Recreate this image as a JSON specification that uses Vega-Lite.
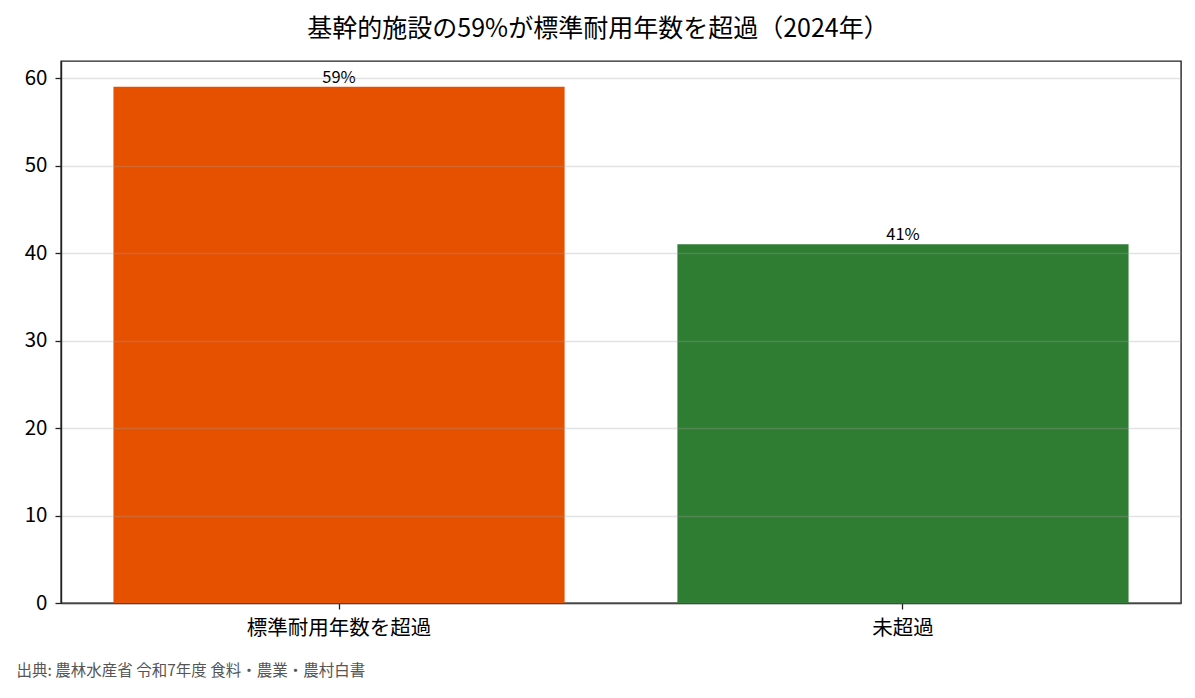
{
  "$schema": "https://vega.github.io/schema/vega-lite/v6.json",
  "width": 1120,
  "height": 542,
  "autosize": {"type": "none"},
  "padding": {"left": 61, "top": 61, "right": 14, "bottom": 95},
  "background": "white",
  "title": {
    "text": "基幹的施設の59%が標準耐用年数を超過（2024年）",
    "font": "Noto Sans CJK JP",
    "fontSize": 25,
    "fontWeight": "normal",
    "color": "#000000",
    "anchor": "middle",
    "dx": -23,
    "offset": 19
  },
  "config": {
    "font": "Noto Sans CJK JP",
    "view": {"stroke": "#222222", "strokeWidth": 1.4}
  },
  "data": {
    "values": [
      {"category": "標準耐用年数を超過", "value": 59, "label": "59%"},
      {"category": "未超過", "value": 41, "label": "41%"}
    ]
  },
  "encoding": {
    "x": {
      "field": "category",
      "type": "nominal",
      "sort": null,
      "scale": {"paddingInner": 0.2, "paddingOuter": 0.093},
      "axis": {
        "title": "出典: 農林水産省 令和7年度 食料・農業・農村白書",
        "titleFont": "Noto Sans CJK JP",
        "titleFontSize": 15.5,
        "titleFontWeight": "normal",
        "titleColor": "#555555",
        "titleAnchor": "start",
        "titleAlign": "left",
        "titleX": -45,
        "titleY": 60,
        "labelAngle": 0,
        "labelFontSize": 20.5,
        "labelLimit": 0,
        "labelColor": "#000000",
        "labelPadding": 9,
        "tickColor": "#222222",
        "tickSize": 6,
        "tickWidth": 1.3,
        "domainColor": "#222222",
        "domainWidth": 1.4,
        "grid": false
      }
    },
    "y": {
      "field": "value",
      "type": "quantitative",
      "scale": {"domain": [0, 61.95], "nice": false},
      "axis": {
        "title": null,
        "values": [0, 10, 20, 30, 40, 50, 60],
        "labelFontSize": 20.5,
        "labelColor": "#000000",
        "labelPadding": 8,
        "tickColor": "#222222",
        "tickSize": 6,
        "tickWidth": 1.3,
        "domainColor": "#222222",
        "domainWidth": 1.4,
        "grid": true,
        "gridColor": "#a0a0a0",
        "gridOpacity": 0.3,
        "gridWidth": 1.4,
        "zindex": 1
      }
    }
  },
  "layer": [
    {
      "mark": {"type": "bar"},
      "encoding": {
        "color": {
          "field": "category",
          "type": "nominal",
          "scale": {"domain": ["標準耐用年数を超過", "未超過"], "range": ["#E65100", "#2E7D32"]},
          "legend": null
        }
      }
    },
    {
      "mark": {"type": "text", "baseline": "bottom", "dy": -1, "fontSize": 16.5, "color": "#000000", "font": "Noto Sans CJK JP"},
      "encoding": {"text": {"field": "label"}}
    }
  ]
}
